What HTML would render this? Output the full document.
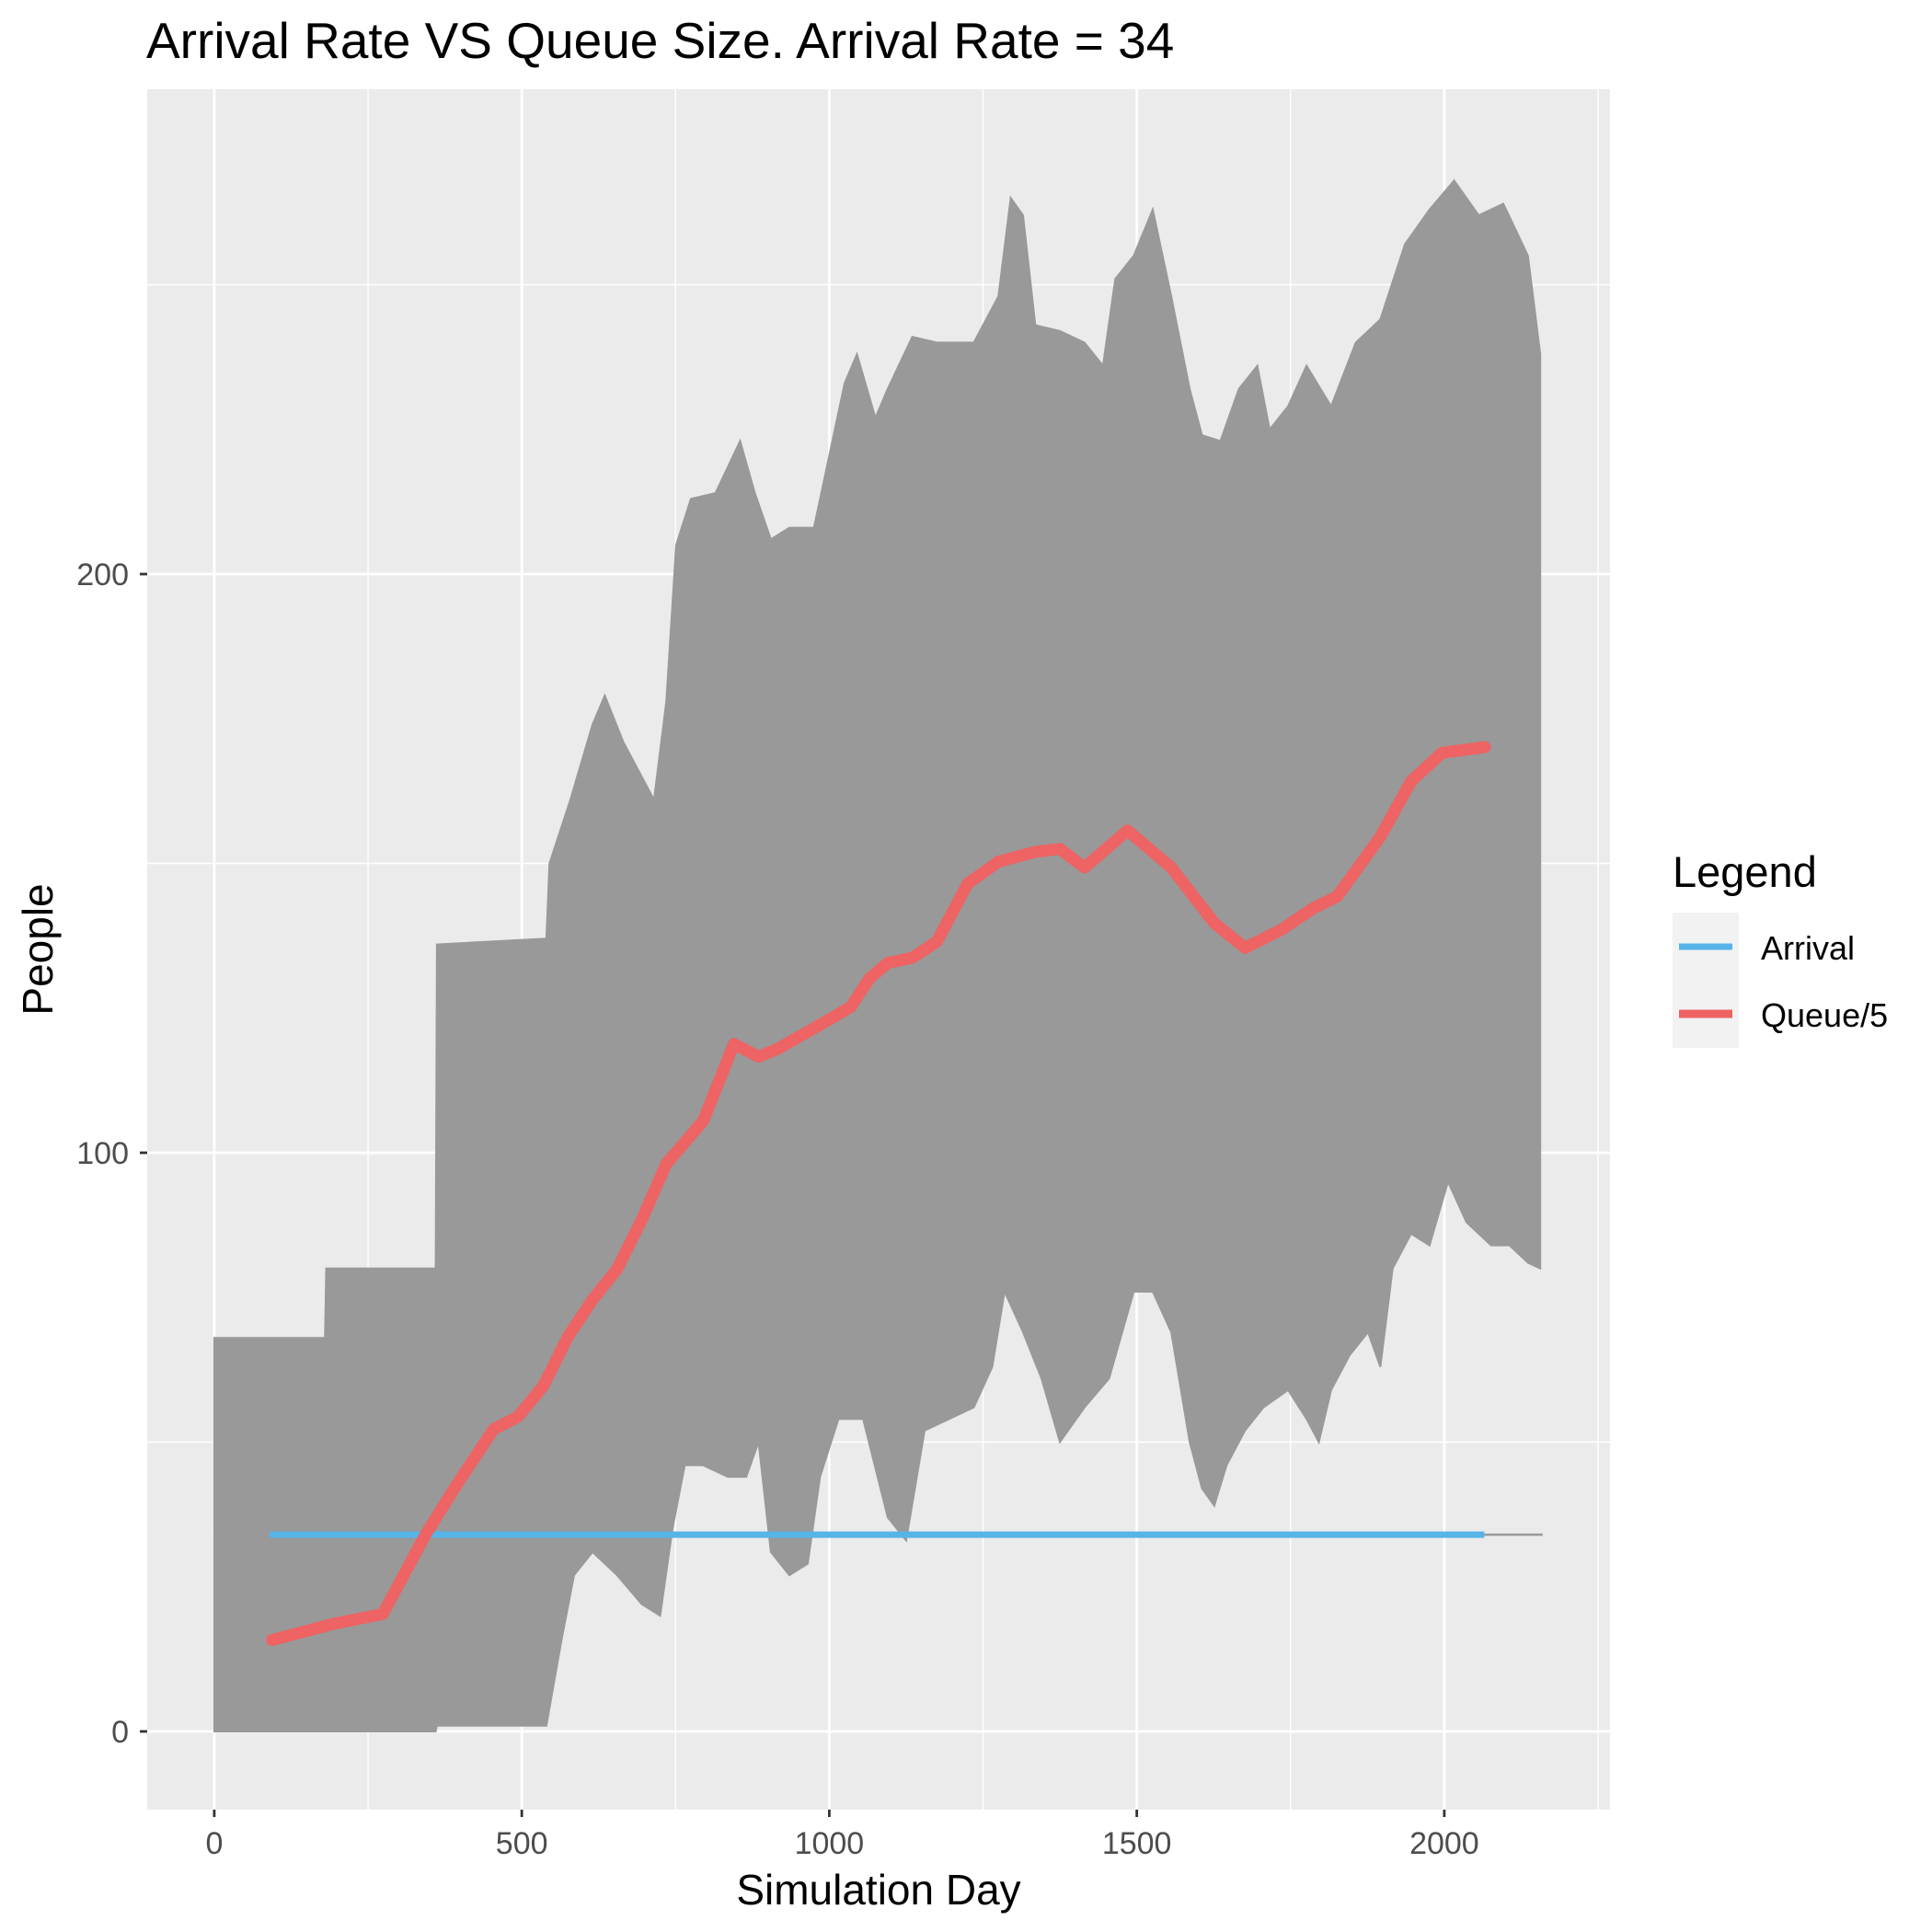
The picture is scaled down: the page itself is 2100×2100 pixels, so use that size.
<!DOCTYPE html>
<html><head><meta charset="utf-8"><style>
html,body{margin:0;padding:0;background:#fff;}
svg{display:block;font-family:"Liberation Sans",Arial,sans-serif;}
</style></head><body>
<svg id="chart" width="2100" height="2100" viewBox="0 0 2100 2100" xmlns="http://www.w3.org/2000/svg">
<text x="159" y="63" font-size="55" fill="#000">Arrival Rate VS Queue Size. Arrival Rate = 34</text>
<rect x="160" y="97" width="1590" height="1870" fill="#ebebeb"/>
<g id="grid"></g>
<g id="marks"></g>
<g id="axes"></g>
<text x="955" y="2070" font-size="46" text-anchor="middle" fill="#000">Simulation Day</text>
<text transform="translate(57,1032) rotate(-90)" font-size="46" text-anchor="middle" fill="#000">People</text>
<g>
<text x="1818" y="964" font-size="47" fill="#000">Legend</text>
<rect x="1818" y="992" width="72" height="147" fill="#f2f2f2"/>
<line x1="1825" y1="1029" x2="1883" y2="1029" stroke="#56B4E9" stroke-width="7"/>
<line x1="1825" y1="1102" x2="1883" y2="1102" stroke="#EE6363" stroke-width="9"/>
<text x="1914" y="1043" font-size="36" fill="#000">Arrival</text>
<text x="1914" y="1116" font-size="36" fill="#000">Queue/5</text>
</g>
</svg>
<script>
const upperDays=[0,180,182,330,360,362,540,545,579,615,635,665,695,715,735,751,775,815,855,879,905,935,975,995,1025,1045,1075,1095,1135,1175,1235,1275,1295,1315,1335,1375,1415,1445,1465,1495,1526,1556,1586,1606,1636,1666,1696,1716,1746,1776,1816,1856,1896,1936,1976,2016,2056,2096,2136,2156];
const upperVals=[68,68,80,80,80,136,137,150,161,174,179,171,165,161,178,205,213,214,223,214,206,208,208,218,233,238,227,232,241,240,240,248,265,262,243,242,240,236,251,255,263,248,232,224,223,232,236,225,229,236,229,240,244,257,263,268,262,264,255,238];
const lowerDays=[0,360,362,540,565,585,615,655,695,725,745,765,795,835,865,885,905,935,965,985,1015,1055,1095,1125,1155,1195,1235,1265,1285,1315,1345,1375,1415,1455,1495,1526,1556,1586,1606,1626,1646,1676,1706,1746,1776,1796,1816,1846,1876,1896,1916,1946,1976,2006,2036,2076,2106,2136,2156];
const lowerVals=[0,0,1,1,16,27,31,27,22,20,35,46,46,44,44,50,31,27,29,44,54,54,37,33,52,54,56,63,76,69,61,50,56,61,76,76,69,50,42,39,46,52,56,59,54,50,59,65,69,63,80,86,84,95,88,84,84,81,80];
const queueDays=[94,194,274,344,394,454,494,535,575,615,655,695,735,795,845,885,915,975,1035,1065,1095,1135,1175,1225,1275,1335,1375,1415,1485,1556,1626,1676,1736,1786,1826,1896,1946,1996,2066];
const queueVals=[15.8,18.6,20.3,34.1,42.6,52.2,54.4,59.7,68.2,74.6,79.9,88.4,98.1,105.5,118.8,116.6,117.9,121.5,125.2,130.1,132.8,133.7,136.5,146.5,150.3,152,152.5,149.3,155.7,149.3,139.7,135.4,138.6,142.2,144.3,154.6,164.2,169.1,170.1];
const arrivalRate=34;
const arrivalRange=[90,2065];
const grayRange=[0,2160];
const xTicks=[0,500,1000,1500,2000];
const xMinor=[250,750,1250,1750,2250];
const yTicks=[0,100,200];
const yMinor=[50,150,250];

const NS="http://www.w3.org/2000/svg";
const PL=160,PR=1750,PT=97,PB=1967;
function xs(d){return 232.9+d*0.6685;}
function ys(v){return 1882-v*6.29;}
function mk(tag,attrs,parent){const e=document.createElementNS(NS,tag);for(const k in attrs)e.setAttribute(k,attrs[k]);parent.appendChild(e);return e;}
const grid=document.getElementById('grid'),marks=document.getElementById('marks'),axes=document.getElementById('axes');
xMinor.forEach(d=>{const l=mk('line',{x1:xs(d),x2:xs(d),y1:PT,y2:PB,stroke:'#fff','stroke-width':1.4},grid);

});
yMinor.forEach(v=>{const l=mk('line',{x1:PL,x2:PR,y1:ys(v),y2:ys(v),stroke:'#fff','stroke-width':1.4},grid);

});
xTicks.forEach(d=>{const l=mk('line',{x1:xs(d),x2:xs(d),y1:PT,y2:PB,stroke:'#fff','stroke-width':2.8},grid);


const t=mk('line',{x1:xs(d),x2:xs(d),y1:PB,y2:PB+8,stroke:'#333','stroke-width':2.8},axes);


const tx=mk('text',{x:xs(d),y:2015,'font-size':34,'text-anchor':'middle',fill:'#4d4d4d'},axes);tx.textContent=d;

});
yTicks.forEach(v=>{const l=mk('line',{x1:PL,x2:PR,y1:ys(v),y2:ys(v),stroke:'#fff','stroke-width':2.8},grid);


const t=mk('line',{x1:PL-8,x2:PL,y1:ys(v),y2:ys(v),stroke:'#333','stroke-width':2.8},axes);


const tx=mk('text',{x:140,y:ys(v)+12,'font-size':34,'text-anchor':'end',fill:'#4d4d4d'},axes);tx.textContent=v;

});
let pts=[];
upperDays.forEach((d,i)=>pts.push(xs(d)+','+ys(upperVals[i])));
for(let i=lowerDays.length-1;i>=0;i--)pts.push(xs(lowerDays[i])+','+ys(lowerVals[i]));
const poly=mk('polygon',{points:pts.join(' '),fill:'#999999',stroke:'#999999','stroke-width':2},marks);


const gl=mk('line',{x1:xs(grayRange[0]),x2:xs(grayRange[1]),y1:ys(arrivalRate),y2:ys(arrivalRate),stroke:'#999','stroke-width':2.5},marks);


const al=mk('line',{x1:xs(arrivalRange[0]),x2:xs(arrivalRange[1]),y1:ys(arrivalRate),y2:ys(arrivalRate),stroke:'#56B4E9','stroke-width':7},marks);


const qp=queueDays.map((d,i)=>xs(d)+','+ys(queueVals[i])).join(' ');
const ql=mk('polyline',{points:qp,fill:'none',stroke:'#EE6363','stroke-width':13,'stroke-linejoin':'round','stroke-linecap':'round'},marks);


</script>
</body></html>
